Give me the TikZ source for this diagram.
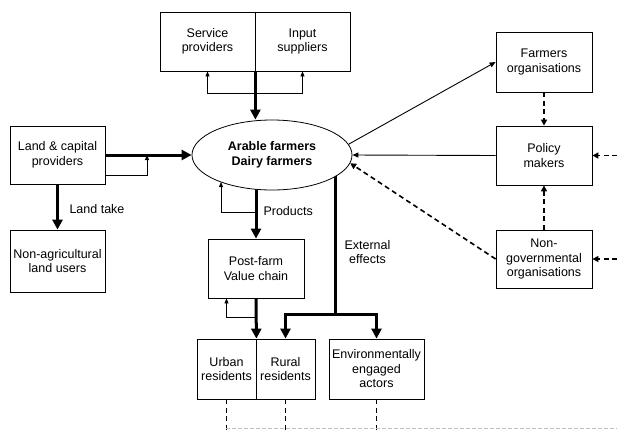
\documentclass[tikz,border=0pt]{standalone}
\usepackage{fontspec}
\setmainfont{Liberation Sans}
\usetikzlibrary{arrows.meta,shapes.geometric,backgrounds}
\begin{document}
\begin{tikzpicture}[x=1pt,y=-1pt,
  txt/.style={font=\fontsize{12.5}{14.5}\selectfont, align=center},
  box/.style={txt, draw, line width=0.8pt, inner sep=1pt},
  bigarr/.style={line width=3pt, line join=miter, -{Triangle[length=10pt,width=10pt]}},
  thickline/.style={line width=3pt},
  smallarr/.style={line width=0.8pt, -{Triangle[length=5pt,width=4pt]}},
  bothsmall/.style={line width=0.8pt, {Triangle[length=5pt,width=4pt]}-{Triangle[length=5pt,width=4pt]}},
  thinarr/.style={line width=0.9pt, -{Triangle[length=6pt,width=5pt]}},
  dashline/.style={line width=1.6pt, dash pattern=on 5pt off 3.5pt},
  dasharr/.style={dashline, -{Triangle[length=6pt,width=6pt]}},
]
\useasboundingbox (0,0) rectangle (617,429);

% actors around the farm
\node[box, minimum width=95pt, minimum height=59pt] (sp) at (207.5,41.5) {Service\\providers};
\node[box, minimum width=95pt, minimum height=59pt] (is) at (302.5,41.5) {Input\\suppliers};
\node[box, minimum width=95pt, minimum height=58pt] (lc) at (57.5,155) {Land \& capital\\providers};
\node[box, minimum width=95pt, minimum height=62pt] (nau) at (57.5,261) {Non-agricultural\\land users};
\node[box, minimum width=96pt, minimum height=59pt] (pf) at (256,268.5) {Post-farm\\Value chain};
\node[box, minimum width=59pt, minimum height=60pt] (ur) at (226.5,369) {Urban\\residents};
\node[box, minimum width=59pt, minimum height=60pt] (rr) at (285.5,369) {Rural\\residents};
\node[box, minimum width=95pt, minimum height=60pt] (env) at (376.5,369) {Environmentally\\engaged\\actors};
\node[box, minimum width=96pt, minimum height=60pt] (fo) at (544,62) {Farmers\\organisations};
\node[box, minimum width=96pt, minimum height=59pt] (pm) at (544,155.5) {Policy\\makers};
\node[box, minimum width=96pt, minimum height=58pt] (ngo) at (544,259) {Non-\\governmental\\organisations};

% the farm itself
\node[txt, draw, fill=white, line width=0.8pt, ellipse, minimum width=160pt, minimum height=70pt, inner sep=0pt, font=\fontsize{12.5}{14.5}\selectfont\bfseries] (farm) at (272,155) {Arable farmers\\Dairy farmers};

% flows leaving the farm (start under the ellipse)
\coordinate (ext) at (335,155);
\coordinate (extj) at (335,314);
\begin{scope}[on background layer]
  \draw[bigarr] (pf.north |- farm.center) -- (pf.north);
  \draw[thickline] (ext) -- (extj);
\end{scope}
\draw[bigarr] (extj) -| (rr.north);
\draw[bigarr] (extj) -| (env.north);
\node[txt, anchor=west] (extlab) at (341,252) {External\\effects};

% inputs to the farm
\draw[bigarr] (sp.south east) -- (sp.south east |- farm.north);
\draw[bothsmall] (sp.south) -- ++(0,22) -| (is.south);
\draw[bigarr] (lc.east) -- (farm.west);
\draw[smallarr] ([yshift=-20pt]lc.east) -| (147,155);
\draw[bigarr] (lc.south) -- (nau.north);
\node[txt, anchor=west] (ltlab) at (66,209) {Land take};

% products
\coordinate (prfb) at (256,212);
\draw[smallarr] (prfb) -| (221,182);
\node[txt, anchor=west] (prlab) at (260,211) {Products};
\draw[bigarr] (pf.south) -- (ur.north east);
\coordinate (pffb) at (256,317);
\draw[smallarr] (pffb) -| (pf.south -| ur.north);

% governance
\draw[thinarr] (farm.8) -- (fo.west);
\draw[thinarr] (pm.west) -- (farm.east);
\draw[dasharr] (ngo.west) -- (farm.-6);
\draw[dasharr] (fo.south) -- (pm.north);
\draw[dasharr] (ngo.north) -- (pm.south);
\coordinate (pmin) at (617,155.5);
\coordinate (ngoin) at (617,259);
\draw[dasharr] (pmin) -- (pm.east);
\draw[dasharr] (ngoin) -- (ngo.east);

% links continuing downwards
\draw[dashline] (ur.south) -- ++(0,32);
\draw[dashline] (rr.south) -- ++(0,32);
\draw[dashline] (env.south) -- ++(0,32);
\coordinate (bl) at (226,428);
\coordinate (br) at (617,428);
\draw[black!25, line width=0.6pt, dash pattern=on 4pt off 2pt] (bl) -- (br);
\end{tikzpicture}
\end{document}
